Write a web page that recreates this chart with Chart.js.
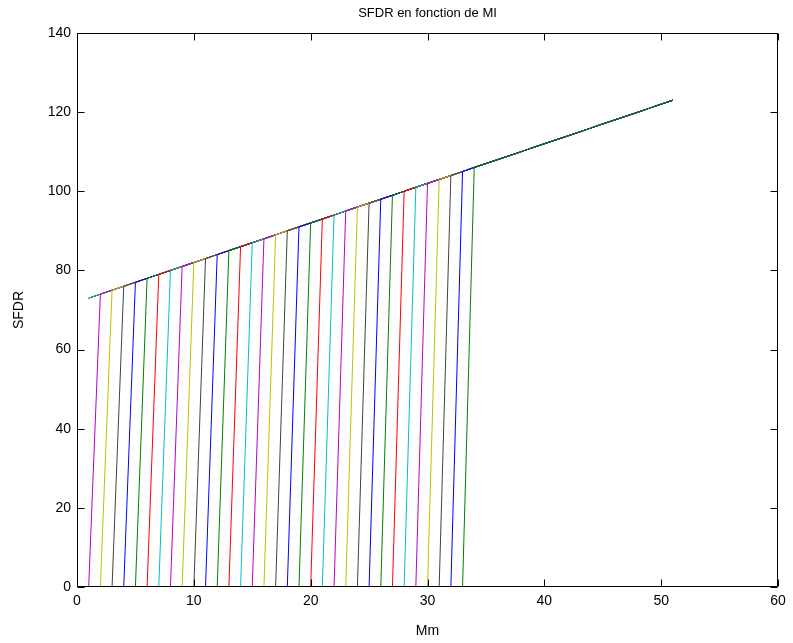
<!DOCTYPE html>
<html><head><meta charset="utf-8">
<script src="https://cdn.jsdelivr.net/npm/chart.js@4/dist/chart.umd.min.js"></script>
<style>html,body{margin:0;padding:0;background:#fff}#wrap{width:793px;height:643px}</style>
</head><body><div id="wrap"><canvas id="c" width="793" height="643"></canvas></div>
<script>
// Mm values (x) sampled at every integer
const mmValues = [1,2,3,4,5,6,7,8,9,10,11,12,13,14,15,16,17,18,19,20,21,22,23,24,25,26,27,28,29,30,31,32,33,34,35,36,37,38,39,40,41,42,43,44,45,46,47,48,49,50,51];
// SFDR envelope
const sfdrEnvelope = [73,74,75,76,77,78,79,80,81,82,83,84,85,86,87,88,89,90,91,92,93,94,95,96,97,98,99,100,101,102,103,104,105,106,107,108,109,110,111,112,113,114,115,116,117,118,119,120,121,122,123];
// number of series that follow the envelope everywhere
const fullSeriesCount = 4;
// Mm value up to which each remaining series is zero
const dropStart = [1,2,3,4,5,6,7,8,9,10,11,12,13,14,15,16,17,18,19,20,21,22,23,24,25,26,27,28,29,30,31,32,33];
const xTicks = [0,10,20,30,40,50,60];
const yTicks = [0,20,40,60,80,100,120,140];
const colorCycle = ['#0000ff','#008000','#ff0000','#00bfbf','#bf00bf','#bfbf00','#404040'];
const titleText = 'SFDR en fonction de MI';
const xLabelText = 'Mm';
const yLabelText = 'SFDR';

const FONT = '"Liberation Sans", Arial, Helvetica, sans-serif';

const datasets = [];
let idx = 0;
for (let s = 0; s < fullSeriesCount; s++) {
  datasets.push({ data: mmValues.map((x, i) => ({x, y: sfdrEnvelope[i]})), color: colorCycle[idx % 7] });
  idx++;
}
for (const start of dropStart) {
  datasets.push({ data: mmValues.map((x, i) => ({x, y: x <= start ? 0 : sfdrEnvelope[i]})), color: colorCycle[idx % 7] });
  idx++;
}
const N = datasets.length;
const chartDatasets = datasets.map((d, i) => ({
  data: d.data,
  borderColor: d.color,
  backgroundColor: d.color,
  borderWidth: 1,
  pointRadius: 0,
  fill: false,
  tension: 0,
  order: N - i
}));

const framePlugin = {
  id: 'frame',
  afterDraw(chart) {
    const ctx = chart.ctx;
    const a = chart.chartArea;
    const xs = chart.scales.x, ys = chart.scales.y;
    ctx.save();
    ctx.strokeStyle = '#000';
    ctx.lineWidth = 1;
    const L = Math.round(a.left) + 0.5, R = Math.round(a.right) - 0.5;
    const T = Math.round(a.top) + 0.5, B = Math.round(a.bottom) - 0.5;
    ctx.beginPath();
    ctx.rect(L, T, R - L, B - T);
    ctx.stroke();
    const tl = 7;
    ctx.beginPath();
    for (const v of xTicks) {
      const px = Math.round(xs.getPixelForValue(v)) + 0.5;
      ctx.moveTo(px, B); ctx.lineTo(px, B - tl);
      ctx.moveTo(px, T); ctx.lineTo(px, T + tl);
    }
    for (const v of yTicks) {
      const py = Math.round(ys.getPixelForValue(v)) + 0.5;
      ctx.moveTo(L, py); ctx.lineTo(L + tl, py);
      ctx.moveTo(R, py); ctx.lineTo(R - tl, py);
    }
    ctx.stroke();
    ctx.fillStyle = '#000';
    ctx.font = '13px ' + FONT;
    ctx.textAlign = 'center';
    ctx.textBaseline = 'middle';
    const cx = (a.left + a.right) / 2;
    ctx.fillText(titleText, cx, 13);
    ctx.font = '14px ' + FONT;
    ctx.fillText(xLabelText, cx, 631);
    ctx.translate(19, (a.top + a.bottom) / 2);
    ctx.rotate(-Math.PI / 2);
    ctx.fillText(yLabelText, 0, 0);
    ctx.restore();
  }
};

new Chart(document.getElementById('c'), {
  type: 'line',
  data: { datasets: chartDatasets },
  options: {
    responsive: false,
    animation: false,
    devicePixelRatio: 1,
    layout: { padding: { left: 0, top: 33, right: 15, bottom: 0 } },
    plugins: { legend: { display: false }, title: { display: false }, tooltip: { enabled: false } },
    scales: {
      x: {
        type: 'linear', min: 0, max: 60,
        grid: { display: false, drawTicks: false },
        border: { display: false },
        afterBuildTicks: s => { s.ticks = xTicks.map(v => ({ value: v })); },
        afterFit: s => { s.height = 56; },
        ticks: { padding: 6, color: '#000', font: { family: FONT, size: 14 }, maxRotation: 0, autoSkip: false }
      },
      y: {
        type: 'linear', min: 0, max: 140,
        grid: { display: false, drawTicks: false },
        border: { display: false },
        afterBuildTicks: s => { s.ticks = yTicks.map(v => ({ value: v })); },
        afterFit: s => { s.width = 77; },
        ticks: { padding: 6, color: '#000', font: { family: FONT, size: 14 }, autoSkip: false }
      }
    }
  },
  plugins: [framePlugin]
});
</script>
</body></html>
